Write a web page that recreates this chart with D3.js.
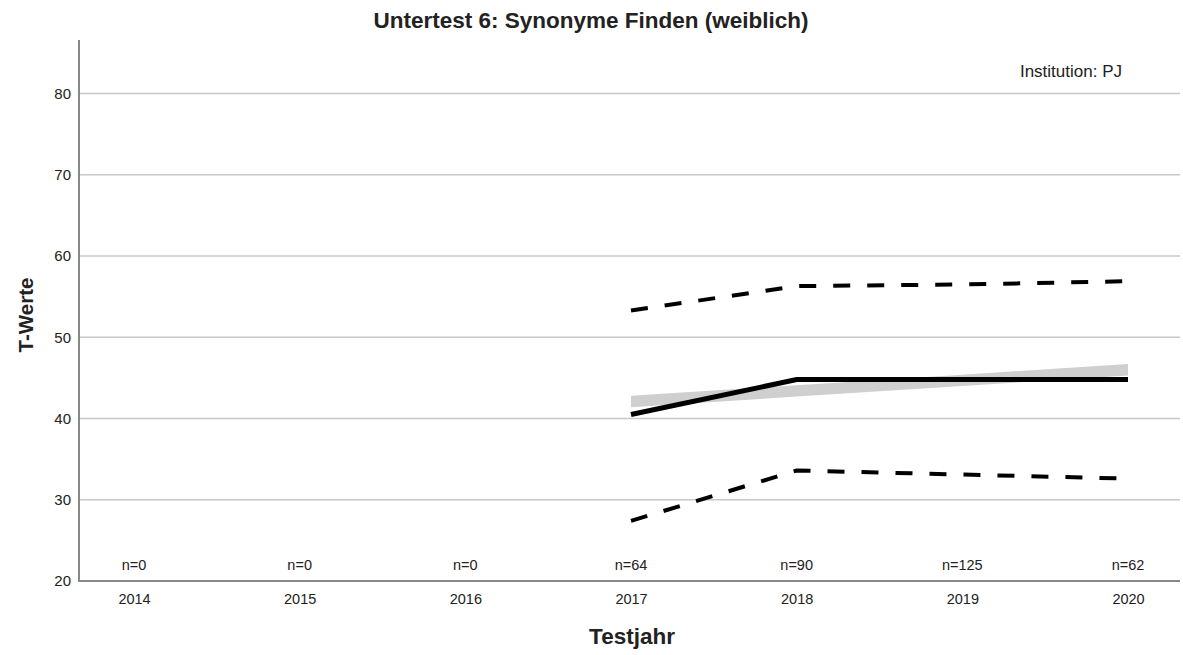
<!DOCTYPE html>
<html>
<head>
<meta charset="utf-8">
<script src="https://cdn.jsdelivr.net/npm/d3@7"></script>
<style>
  body { margin: 0; background: #fff; }
  text { font-family: "Liberation Sans", Arial, sans-serif; fill: #222; }
</style>
</head>
<body>
<svg id="chart" width="1183" height="655"></svg>
<script>
const years = ['2014', '2015', '2016', '2017', '2018', '2019', '2020']
const counts = [0, 0, 0, 64, 90, 125, 62]
const yTicks = [20, 30, 40, 50, 60, 70, 80]

// only years with data
const dataYears = ['2017', '2018', '2019', '2020']
const meanValues = [40.5, 44.8, 44.8, 44.8]
const upperValues = [53.3, 56.3, 56.5, 56.9]
const lowerValues = [27.4, 33.6, 33.1, 32.6]
const trendLow = [41.4, 42.7, 44.0, 45.3]
const trendHigh = [42.8, 44.1, 45.4, 46.7]

const svg = d3.select('#chart')
const plotLeft = 79, plotRight = 1180, plotTop = 40, plotBottom = 581
const FONT = '"Liberation Sans", Arial, sans-serif'

const x = d3.scalePoint().domain(years).range([134, 1128])
const y = d3.scaleLinear().domain([20, 86.6]).range([plotBottom, plotTop])

// gridlines
svg.append('g').selectAll('line')
  .data(yTicks.filter(d => d > 20))
  .join('line')
  .attr('x1', plotLeft).attr('x2', plotRight)
  .attr('y1', d => y(d)).attr('y2', d => y(d))
  .attr('stroke', '#c8c8c8').attr('stroke-width', 1.5)

// axes
const yAxis = svg.append('g').attr('transform', 'translate(' + plotLeft + ',0)')
  .call(d3.axisLeft(y).tickValues(yTicks).tickSize(0).tickPadding(8))
yAxis.select('.domain').remove()
yAxis.selectAll('text').attr('font-size', 15).style('font-family', FONT).attr('fill', '#222')

const xAxis = svg.append('g').attr('transform', 'translate(0,' + plotBottom + ')')
  .call(d3.axisBottom(x).tickSize(0).tickPadding(13))
xAxis.select('.domain').remove()
xAxis.selectAll('text').attr('font-size', 14.5).style('font-family', FONT).attr('fill', '#222')

svg.append('line').attr('x1', plotLeft).attr('x2', plotLeft).attr('y1', plotTop).attr('y2', plotBottom + 1)
  .attr('stroke', '#888').attr('stroke-width', 2)
svg.append('line').attr('x1', plotLeft).attr('x2', plotRight).attr('y1', plotBottom).attr('y2', plotBottom)
  .attr('stroke', '#888').attr('stroke-width', 2)

// trend band
const band = dataYears.map((d, i) => ({ year: d, lo: trendLow[i], hi: trendHigh[i] }))
svg.append('path').datum(band)
  .attr('fill', '#cfcfcf')
  .attr('d', d3.area().x(d => x(d.year)).y0(d => y(d.lo)).y1(d => y(d.hi)))

const line = d3.line().x(d => x(d.year)).y(d => y(d.v))
function series (vals) { return dataYears.map((d, i) => ({ year: d, v: vals[i] })) }

svg.append('path').datum(series(upperValues))
  .attr('fill', 'none').attr('stroke', '#000').attr('stroke-width', 4)
  .attr('stroke-dasharray', '17,17').attr('d', line)
svg.append('path').datum(series(lowerValues))
  .attr('fill', 'none').attr('stroke', '#000').attr('stroke-width', 4)
  .attr('stroke-dasharray', '17,17').attr('d', line)
svg.append('path').datum(series(meanValues))
  .attr('fill', 'none').attr('stroke', '#000').attr('stroke-width', 5)
  .attr('d', line)

// n labels
svg.append('g').selectAll('text')
  .data(years)
  .join('text')
  .attr('x', d => x(d)).attr('y', 570)
  .attr('text-anchor', 'middle').attr('font-size', 14.5)
  .text((d, i) => 'n=' + counts[i])

// titles
svg.append('text').attr('x', 591).attr('y', 28).attr('text-anchor', 'middle')
  .attr('font-size', 22.5).attr('font-weight', 'bold').attr('fill', '#111')
  .text('Untertest 6: Synonyme Finden (weiblich)')
svg.append('text').attr('x', 632).attr('y', 644).attr('text-anchor', 'middle')
  .attr('font-size', 22.5).attr('font-weight', 'bold').attr('fill', '#111')
  .text('Testjahr')
svg.append('text').attr('transform', 'translate(33,315) rotate(-90)').attr('text-anchor', 'middle')
  .attr('font-size', 20.5).attr('font-weight', 'bold').attr('fill', '#111')
  .text('T-Werte')
svg.append('text').attr('x', 1122).attr('y', 77).attr('text-anchor', 'end')
  .attr('font-size', 17)
  .text('Institution: PJ')
</script>
</body>
</html>
